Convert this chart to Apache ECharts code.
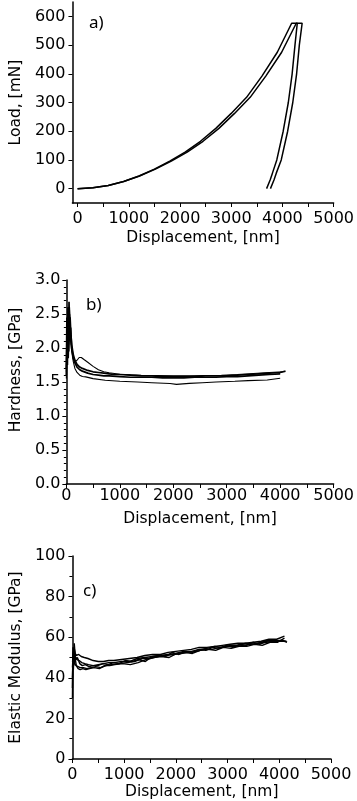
<!DOCTYPE html>
<html>
<head>
<meta charset="utf-8">
<script src="https://cdn.jsdelivr.net/npm/echarts@6/dist/echarts.min.js"></script>
<style>
  html, body { margin: 0; padding: 0; background: #fff; }
  #chart { width: 357px; height: 801px; }
</style>
</head>
<body>
<div id="chart"></div>
<script>
// a) load - displacement (loading, hold, unloading)
const loadDispA = [0, 300, 600, 900, 1200, 1500, 1800, 2100, 2400, 2700, 3000, 3300, 3600, 3900, 4180, 4290, 4245, 4190, 4115, 4015, 3890, 3805, 3760, 3691];
const loadA = [0, 3, 11, 25, 44, 68, 96, 127, 165, 210, 262, 318, 392, 475, 576, 576, 500, 400, 300, 200, 100, 54, 30, 0];
const loadDispB = [0, 300, 600, 900, 1210, 1520, 1830, 2140, 2450, 2760, 3065, 3370, 3675, 3985, 4270, 4385, 4330, 4277, 4202, 4102, 3977, 3880, 3835, 3766];
const loadB = [0, 3, 11, 25, 44, 68, 96, 127, 165, 210, 262, 318, 392, 475, 576, 576, 500, 400, 300, 200, 100, 54, 30, 0];

// b) hardness
const hardDisp1 = [0, 10, 20, 30, 40, 50, 60, 70, 85, 100, 130, 160, 200, 250, 300, 400, 500, 600, 700, 800, 900, 1000, 1200, 1400, 1600, 1800, 2000, 2200, 2400, 2600, 2800, 3000, 3200, 3400, 3600, 3800, 4000, 4100];
const hard1 = [1.60, 2.45, 1.75, 2.60, 2.05, 2.68, 2.30, 2.45, 2.20, 2.05, 1.90, 1.82, 1.76, 1.72, 1.70, 1.67, 1.65, 1.64, 1.63, 1.62, 1.61, 1.61, 1.60, 1.59, 1.59, 1.58, 1.58, 1.58, 1.58, 1.59, 1.59, 1.59, 1.60, 1.61, 1.62, 1.63, 1.64, 1.66];
const hardDisp2 = [0, 15, 25, 35, 45, 55, 65, 80, 100, 130, 160, 200, 250, 300, 400, 500, 600, 700, 800, 1000, 1200, 1400, 1600, 1800, 2000, 2200, 2400, 2600, 2800, 3000, 3200, 3400, 3600, 3800, 4000];
const hard2 = [1.70, 2.20, 1.90, 2.55, 1.95, 2.50, 2.10, 2.30, 2.00, 1.85, 1.78, 1.72, 1.68, 1.66, 1.63, 1.61, 1.60, 1.59, 1.59, 1.58, 1.57, 1.57, 1.57, 1.56, 1.56, 1.56, 1.57, 1.57, 1.57, 1.58, 1.58, 1.59, 1.60, 1.61, 1.62];
const hardDisp3 = [0, 20, 40, 60, 80, 100, 130, 160, 200, 240, 280, 330, 400, 500, 600, 700, 800, 900, 1000, 1200, 1400, 1700, 2000, 2300, 2600, 2900, 3200, 3500, 3800, 4050];
const hard3 = [1.65, 2.40, 2.00, 2.60, 2.20, 2.00, 1.85, 1.80, 1.82, 1.86, 1.86, 1.83, 1.79, 1.73, 1.68, 1.65, 1.635, 1.625, 1.615, 1.605, 1.60, 1.595, 1.59, 1.59, 1.595, 1.60, 1.61, 1.625, 1.64, 1.65];
const hardDisp4 = [0, 20, 40, 60, 80, 100, 130, 160, 200, 250, 300, 364, 500, 727, 1000, 1333, 1600, 1939, 2060, 2300, 2545, 2800, 3151, 3400, 3758, 4000];
const hard4 = [1.55, 2.30, 1.85, 2.50, 2.10, 1.95, 1.80, 1.70, 1.64, 1.60, 1.58, 1.575, 1.55, 1.525, 1.51, 1.50, 1.49, 1.477, 1.465, 1.48, 1.49, 1.50, 1.51, 1.52, 1.53, 1.555];

// c) elastic modulus
const modDisp1 = [0, 10, 20, 35, 50, 80, 120, 170, 230, 300, 400, 500, 600, 700, 800, 950, 1100, 1250, 1400, 1550, 1700, 1850, 2000, 2150, 2300, 2450, 2600, 2750, 2900, 3050, 3200, 3350, 3500, 3650, 3800, 3950, 4100];
const mod1 = [30, 55, 48, 57, 52, 51, 51.5, 50.5, 50, 49.5, 48.5, 48, 48, 48.5, 48.5, 49, 49.5, 50, 51, 51.5, 51.5, 52.5, 53, 53.5, 54, 55, 55, 55.5, 56, 56.5, 57, 57, 57.5, 58, 59, 59, 60.5];
const modDisp2 = [0, 12, 25, 40, 60, 90, 130, 180, 240, 310, 400, 500, 600, 700, 800, 950, 1100, 1250, 1400, 1550, 1700, 1850, 2000, 2150, 2300, 2450, 2600, 2750, 2900, 3050, 3200, 3350, 3500, 3650, 3800, 3950, 4120];
const mod2 = [40, 53, 46, 54, 50, 49, 48.5, 47.5, 47, 46.5, 46, 46.5, 47, 47.5, 47.5, 48, 48, 49.5, 50, 50.5, 51, 51.5, 52, 53, 53, 54, 54.5, 55.5, 55, 56, 56, 57, 56.5, 57.5, 58.5, 58, 58];
const modDisp3 = [0, 8, 18, 30, 45, 70, 100, 150, 210, 280, 360, 450, 550, 650, 750, 900, 1050, 1200, 1350, 1500, 1650, 1800, 1950, 2100, 2250, 2400, 2550, 2700, 2850, 3000, 3150, 3300, 3450, 3600, 3750, 3900, 4050, 4150];
const mod3 = [35, 50, 44, 52, 47, 46, 45.5, 45, 45, 44.5, 45, 45.5, 45, 46, 46.5, 47, 47.5, 48, 49.5, 49.5, 50.5, 51, 51.5, 52, 52.5, 53, 54, 54, 55, 55.5, 55.5, 56, 56.5, 57, 57.5, 58, 58.5, 57.5];
const modDisp4 = [0, 15, 30, 50, 75, 110, 150, 200, 260, 330, 420, 520, 620, 720, 820, 970, 1120, 1270, 1420, 1570, 1720, 1870, 2020, 2170, 2320, 2470, 2620, 2770, 2920, 3070, 3220, 3370, 3520, 3670, 3820, 3970, 4100];
const mod4 = [45, 52, 47, 50, 46, 44.5, 44, 44.5, 44, 44.5, 45, 44.5, 46, 46, 46.5, 47, 46.5, 47.5, 49, 50, 50.5, 50, 52, 52.5, 52, 53.5, 54, 53.5, 55, 54.5, 55.5, 55.5, 56.5, 56, 57.5, 57.5, 59.5];
const modDisp5 = [0, 20, 40, 65, 95, 140, 190, 250, 320, 400, 490, 590, 690, 790, 900, 1020, 1150, 1280, 1410, 1540, 1670, 1800, 1930, 2060, 2190, 2320, 2450, 2580, 2710, 2840, 2970, 3100, 3230, 3360, 3490, 3620, 3750, 3880, 4010, 4140];
const mod5 = [48, 50, 53, 49, 50, 47, 46, 46.5, 45.5, 46, 46, 47, 46.5, 47.5, 47, 48.5, 48, 49, 48, 50.5, 51, 50.5, 52.5, 51.5, 53, 52.5, 54, 53.5, 55, 54.5, 56, 55, 56.5, 56, 57.5, 56.5, 58, 58.5, 58, 58];

// tick labels
const dispTicks = [0, 1000, 2000, 3000, 4000, 5000];
const dispMinor = [0, 500, 1000, 1500, 2000, 2500, 3000, 3500, 4000, 4500, 5000];
const loadTicks = [0, 100, 200, 300, 400, 500, 600];
const panelLabels = ['a)', 'b)', 'c)'];

const zip = (xs, ys) => xs.map((x, i) => [x, ys[i]]);

const FONT = 'DejaVu Sans';
const axisLine = { show: true, onZero: false, lineStyle: { color: '#000', width: 1.5 } };
const tickStyle = { show: true, inside: false, length: 4, lineStyle: { color: '#000', width: 1 } };
const labelStyle = { color: '#000', fontFamily: FONT, fontSize: 16, formatter: (v) => String(v) };
const nameStyle = { color: '#000', fontFamily: FONT, fontSize: 15.5 };

function xAxis(idx, extra) {
  return Object.assign({
    type: 'value', gridIndex: idx, max: 5000,
    name: 'Displacement, [nm]', nameLocation: 'middle', nameTextStyle: nameStyle,
    axisLine: axisLine, splitLine: { show: false },
    axisTick: tickStyle,
    axisLabel: Object.assign({ margin: 7 }, labelStyle)
  }, extra);
}
function yAxis(idx, extra) {
  return Object.assign({
    type: 'value', gridIndex: idx, nameLocation: 'middle', nameTextStyle: nameStyle,
    axisLine: axisLine, splitLine: { show: false },
    axisTick: tickStyle,
    axisLabel: Object.assign({ margin: 7 }, labelStyle)
  }, extra);
}
function line(name, data, xi, width) {
  return {
    name: name, type: 'line', xAxisIndex: xi, yAxisIndex: xi, data: data,
    showSymbol: false, smooth: false, animation: false,
    lineStyle: { color: '#000', width: width }
  };
}

const chart = echarts.init(document.getElementById('chart'));
chart.setOption({
  backgroundColor: '#fff',
  animation: false,
  grid: [
    { left: 64, right: 20, top: 2, bottom: 598 },
    { left: 60, right: 22, top: 280, bottom: 317 },
    { left: 57, right: 26, top: 556, bottom: 42 }
  ],
  xAxis: [
    xAxis(0, {
      min: -100, nameGap: 27,
      axisTick: Object.assign({}, tickStyle, { customValues: dispMinor }),
      axisLabel: Object.assign({}, labelStyle, { margin: 8, customValues: dispTicks })
    }),
    xAxis(1, {
      min: 0, interval: 1000, nameGap: 27,
      minorTick: { show: true, splitNumber: 2, length: 4, lineStyle: { color: '#000' } },
      axisLabel: Object.assign({}, labelStyle, { margin: 4 })
    }),
    xAxis(2, {
      min: 0, interval: 1000, nameGap: 20,
      minorTick: { show: true, splitNumber: 2, length: 4, lineStyle: { color: '#000' } },
      axisLabel: Object.assign({}, labelStyle, { margin: 8 })
    })
  ],
  yAxis: [
    yAxis(0, {
      min: -50, max: 650, name: 'Load, [mN]', nameGap: 40,
      axisTick: Object.assign({}, tickStyle, { customValues: loadTicks }),
      axisLabel: Object.assign({}, labelStyle, { margin: 7, customValues: loadTicks })
    }),
    yAxis(1, {
      min: 0, max: 3, interval: 0.5, name: 'Hardness, [GPa]', nameGap: 37,
      nameTextStyle: Object.assign({ padding: [0, 0, 0, 24] }, nameStyle),
      minorTick: { show: true, splitNumber: 5, length: 2.5, lineStyle: { color: '#000' } },
      axisLabel: Object.assign({}, labelStyle, { margin: 6, formatter: (v) => v.toFixed(1) })
    }),
    yAxis(2, {
      min: 0, max: 100, interval: 20, name: 'Elastic Modulus, [GPa]', nameGap: 40,
      minorTick: { show: true, splitNumber: 2, length: 3, lineStyle: { color: '#000' } },
      axisLabel: Object.assign({}, labelStyle, { margin: 7 })
    })
  ],
  graphic: [
    { type: 'text', left: 89, top: 15, style: { text: panelLabels[0], font: '17px "Noto Sans"', fill: '#000' } },
    { type: 'text', left: 86, top: 297, style: { text: panelLabels[1], font: '17px "Noto Sans"', fill: '#000' } },
    { type: 'text', left: 83, top: 583, style: { text: panelLabels[2], font: '17px "Noto Sans"', fill: '#000' } }
  ],
  series: [
    line('a1', zip(loadDispA, loadA), 0, 1.5),
    line('a2', zip(loadDispB, loadB), 0, 1.5),
    line('b4', zip(hardDisp4, hard4), 1, 1.1),
    line('b3', zip(hardDisp3, hard3), 1, 1.1),
    line('b2', zip(hardDisp2, hard2), 1, 1.7),
    line('b1', zip(hardDisp1, hard1), 1, 1.7),
    line('c1', zip(modDisp1, mod1), 2, 1.4),
    line('c2', zip(modDisp2, mod2), 2, 1.4),
    line('c3', zip(modDisp3, mod3), 2, 1.4),
    line('c4', zip(modDisp4, mod4), 2, 1.4),
    line('c5', zip(modDisp5, mod5), 2, 1.4)
  ]
});
</script>
</body>
</html>
